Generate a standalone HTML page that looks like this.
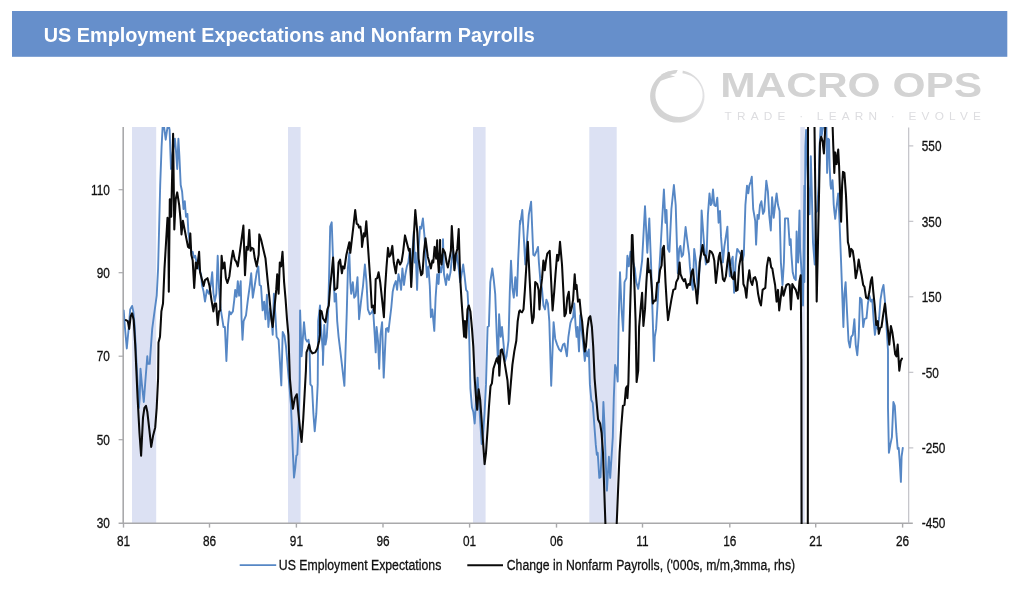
<!DOCTYPE html>
<html lang="en"><head><meta charset="utf-8"><title>US Employment Expectations and Nonfarm Payrolls</title>
<style>
html,body{margin:0;padding:0;background:#fff;}
body{width:1024px;height:595px;overflow:hidden;font-family:"Liberation Sans",sans-serif;}
svg{display:block}
text{font-family:"Liberation Sans",sans-serif;}
text{will-change:transform}
.tk{font-size:14.6px;fill:#111;stroke:#111;stroke-width:0.3px;}
.lg{font-size:14.7px;fill:#111;stroke:#111;stroke-width:0.3px;}
</style></head><body>
<svg width="1024" height="595" viewBox="0 0 1024 595">
<rect width="1024" height="595" fill="#ffffff"/>

<rect x="12" y="11" width="995.3" height="45.8" fill="#668fcb"/>
<text x="43.8" y="41.6" font-size="20.3" font-weight="bold" fill="#ffffff" textLength="491" lengthAdjust="spacingAndGlyphs">US Employment Expectations and Nonfarm Payrolls</text>
<g id="logo">
<defs><linearGradient id="rg" x1="0" y1="0" x2="1" y2="0"><stop offset="0" stop-color="#d2d2d2"/><stop offset="0.6" stop-color="#d6d6d6"/><stop offset="1" stop-color="#e2e2e4"/></linearGradient></defs>
<path fill="url(#rg)" fill-rule="evenodd" d="M677.3,70 a27.2,26.3 0 1,0 0.01,0 Z M679,72.9 a23.6,22 0 1,1 -0.01,0 Z"/>
<path d="M677.9,69 L683,69 L682.4,74 L675.8,74 Z" fill="#ffffff"/>
<path d="M661.5,74.2 L668,71.6 L677.7,70.3 L675.6,73.2 L669.6,75 L675.2,76.4 L668.6,78 L660.2,81 Z" fill="#d4d4d4"/>
<text x="720.2" y="97.4" font-size="35" font-weight="bold" fill="#d3d3d3" textLength="262" lengthAdjust="spacingAndGlyphs">MACRO OPS</text>
<text x="724.6" y="119.8" font-size="11.8" fill="#dddde0" textLength="256.3" lengthAdjust="spacing">TRADE · LEARN · EVOLVE</text>
</g>
<defs><clipPath id="cp"><rect x="123.5" y="127" width="785.5" height="397"/></clipPath></defs>
<rect x="132" y="127" width="24.2" height="396" fill="#dce1f3"/>
<rect x="288" y="127" width="12.6" height="396" fill="#dce1f3"/>
<rect x="473" y="127" width="12.6" height="396" fill="#dce1f3"/>
<rect x="589.3" y="127" width="27.4" height="396" fill="#dce1f3"/>
<rect x="800.3" y="127" width="4.5" height="396" fill="#dce1f3"/>
<g stroke="#a9a9ab" stroke-width="1.6" fill="none">
<path d="M123.2,127 V524.0 M118.60000000000001,523.2 H912.8"/>
<path d="M123.5,523.2 v4.4" stroke-width="1.4"/>
<path d="M209.5,523.2 v4.4" stroke-width="1.4"/>
<path d="M296.4,523.2 v4.4" stroke-width="1.4"/>
<path d="M383,523.2 v4.4" stroke-width="1.4"/>
<path d="M469.6,523.2 v4.4" stroke-width="1.4"/>
<path d="M556.5,523.2 v4.4" stroke-width="1.4"/>
<path d="M642.5,523.2 v4.4" stroke-width="1.4"/>
<path d="M729.8,523.2 v4.4" stroke-width="1.4"/>
<path d="M815.7,523.2 v4.4" stroke-width="1.4"/>
<path d="M902.6,523.2 v4.4" stroke-width="1.4"/>
<path d="M123.2,439.7 h-4.6" stroke-width="1.2"/>
<path d="M123.2,356.2 h-4.6" stroke-width="1.2"/>
<path d="M123.2,272.7 h-4.6" stroke-width="1.2"/>
<path d="M123.2,189.7 h-4.6" stroke-width="1.2"/>
</g>
<g stroke="#bcbcc2" stroke-width="1.1" fill="none">
<path d="M908.7,127.6 V523.2"/>
<path d="M908.7,447.9 h4.6"/>
<path d="M908.7,372.3 h4.6"/>
<path d="M908.7,296.8 h4.6"/>
<path d="M908.7,221.3 h4.6"/>
<path d="M908.7,145.9 h4.6"/>
</g>
<text class="tk" transform="translate(123.5,546.4) scale(0.81,1)" text-anchor="middle">81</text>
<text class="tk" transform="translate(209.5,546.4) scale(0.81,1)" text-anchor="middle">86</text>
<text class="tk" transform="translate(296.4,546.4) scale(0.81,1)" text-anchor="middle">91</text>
<text class="tk" transform="translate(383,546.4) scale(0.81,1)" text-anchor="middle">96</text>
<text class="tk" transform="translate(469.6,546.4) scale(0.81,1)" text-anchor="middle">01</text>
<text class="tk" transform="translate(556.5,546.4) scale(0.81,1)" text-anchor="middle">06</text>
<text class="tk" transform="translate(642.5,546.4) scale(0.81,1)" text-anchor="middle">11</text>
<text class="tk" transform="translate(729.8,546.4) scale(0.81,1)" text-anchor="middle">16</text>
<text class="tk" transform="translate(815.7,546.4) scale(0.81,1)" text-anchor="middle">21</text>
<text class="tk" transform="translate(902.6,546.4) scale(0.81,1)" text-anchor="middle">26</text>
<text class="tk" transform="translate(109.8,528.3) scale(0.81,1)" text-anchor="end">30</text>
<text class="tk" transform="translate(109.8,444.8) scale(0.81,1)" text-anchor="end">50</text>
<text class="tk" transform="translate(109.8,361.3) scale(0.81,1)" text-anchor="end">70</text>
<text class="tk" transform="translate(109.8,277.8) scale(0.81,1)" text-anchor="end">90</text>
<text class="tk" transform="translate(109.8,194.8) scale(0.81,1)" text-anchor="end">110</text>
<text class="tk" transform="translate(921.8,528.3) scale(0.81,1)" text-anchor="start">-450</text>
<text class="tk" transform="translate(921.8,453.2) scale(0.81,1)" text-anchor="start">-250</text>
<text class="tk" transform="translate(921.8,377.6) scale(0.81,1)" text-anchor="start">-50</text>
<text class="tk" transform="translate(921.8,302.1) scale(0.81,1)" text-anchor="start">150</text>
<text class="tk" transform="translate(921.8,226.60000000000002) scale(0.81,1)" text-anchor="start">350</text>
<text class="tk" transform="translate(921.8,151.20000000000002) scale(0.81,1)" text-anchor="start">550</text>
<g clip-path="url(#cp)" fill="none" stroke-linejoin="round" stroke-linecap="round">
<path d="M123.7,310.4 L124.9,327.0 L126.8,348.5 L128.8,327.0 L130.2,309.4 L132.1,305.9 L133.3,311.4 L134.6,325.0 L137.6,384.4 L138.9,407.8 L139.7,398.1 L140.5,368.8 L141.9,384.4 L143.8,402.0 L145.4,380.5 L147.3,356.3 L147.9,363.9 L149.7,363.9 L152.2,328.9 L154.8,309.4 L156.7,295.7 L158.1,268.4 L160.2,185.0 L161.6,146.5 L162.6,127.2 L163.4,121.1 L164.1,127.2 L165.7,139.7 L167.5,127.2 L168.4,123.1 L169.6,129.9 L171.0,169.0 L172.9,151.4 L174.9,138.7 L176.2,153.4 L177.2,169.0 L178.4,138.7 L179.4,156.3 L180.7,185.0 L182.1,191.5 L183.5,209.0 L184.8,201.2 L186.0,216.8 L187.4,213.9 L188.4,232.5 L191.3,252.8 L192.7,251.8 L193.8,257.6 L195.2,255.7 L196.6,262.5 L198.1,266.4 L199.7,270.3 L201.1,274.2 L202.0,285.0 L203.6,291.8 L205.0,301.6 L206.9,289.9 L208.9,293.8 L210.8,285.0 L212.2,272.3 L213.4,292.8 L214.7,301.6 L216.3,293.8 L217.7,255.7 L219.0,287.9 L220.6,308.4 L222.0,317.2 L223.5,327.0 L224.9,327.0 L226.4,361.0 L228.0,325.0 L229.4,311.4 L230.9,314.3 L232.9,311.4 L234.3,299.6 L235.2,289.9 L236.6,296.7 L237.8,281.1 L239.1,295.7 L240.7,281.1 L241.5,317.2 L242.5,339.7 L243.6,321.1 L246.0,315.3 L247.9,299.6 L249.9,285.0 L251.2,273.3 L252.8,297.7 L254.8,285.0 L256.7,272.3 L258.3,266.4 L259.6,285.0 L261.0,286.0 L262.6,310.4 L264.1,301.6 L265.5,319.2 L266.9,294.8 L268.4,327.0 L270.0,308.4 L271.4,317.2 L272.7,334.8 L273.9,293.8 L275.3,313.3 L276.6,336.8 L278.6,339.7 L281.3,385.4 L282.7,331.9 L284.5,335.8 L286.0,346.5 L290.9,403.9 L292.9,452.8 L294.0,477.6 L295.2,468.4 L296.4,455.7 L297.3,454.7 L298.7,423.5 L299.7,378.5 L300.1,310.4 L301.6,356.3 L304.0,322.1 L305.5,338.7 L307.1,341.6 L308.5,339.7 L309.5,346.5 L310.4,384.4 L312.0,386.3 L313.4,413.7 L314.7,431.3 L316.3,413.7 L317.7,384.4 L318.2,321.1 L320.0,305.5 L320.0,305.5 L321.0,327.0 L322.9,352.4 L322.9,364.9 L324.3,325.0 L325.5,344.6 L326.8,336.8 L328.2,311.4 L329.4,262.5 L330.2,226.6 L331.7,222.3 L333.3,266.4 L334.6,301.6 L336.0,293.8 L337.2,321.1 L338.6,336.8 L340.5,352.4 L344.4,385.8 L346.8,311.4 L347.9,268.4 L349.3,252.8 L350.3,282.1 L351.2,293.8 L352.8,282.1 L354.2,297.7 L355.7,295.7 L357.5,277.2 L359.1,319.2 L361.0,301.6 L363.0,286.0 L364.9,264.5 L366.5,282.1 L367.9,309.4 L369.8,314.3 L371.8,312.3 L373.1,309.4 L374.7,334.8 L375.7,352.4 L376.6,327.0 L378.0,340.7 L379.2,368.8 L380.5,334.8 L382.1,322.1 L383.7,377.6 L386.0,328.9 L387.4,328.0 L388.4,331.9 L389.9,319.2 L391.3,307.5 L392.7,291.8 L394.2,285.0 L395.8,281.1 L397.1,289.9 L398.5,274.2 L400.1,282.1 L401.1,289.9 L402.4,268.4 L404.0,285.0 L405.4,274.2 L406.9,266.4 L408.3,262.5 L409.8,250.8 L411.2,282.1 L412.2,254.7 L413.8,231.5 L414.7,262.5 L415.7,252.8 L417.1,289.9 L418.2,254.7 L420.0,226.6 L421.2,228.6 L422.9,218.4 L424.5,236.4 L425.5,254.7 L427.0,277.2 L428.4,266.4 L429.8,286.0 L430.9,317.2 L432.3,309.4 L434.3,330.9 L435.6,297.7 L437.2,274.2 L438.6,284.0 L439.7,266.4 L441.1,272.3 L442.7,262.5 L443.0,239.3 L444.0,274.2 L446.0,285.0 L447.3,274.2 L448.9,280.1 L450.5,272.3 L451.8,258.6 L453.2,250.8 L454.8,268.4 L456.7,252.8 L458.7,268.4 L460.2,282.1 L461.6,274.2 L463.2,264.5 L464.5,275.2 L466.1,289.9 L467.5,291.8 L468.4,307.5 L469.4,344.6 L470.4,388.3 L472.0,407.8 L473.3,411.7 L474.7,423.5 L476.2,398.1 L477.6,377.6 L479.2,403.9 L480.5,425.4 L481.7,444.0 L483.1,433.2 L484.5,413.7 L486.0,384.4 L487.6,327.0 L488.9,326.0 L490.3,282.1 L492.3,268.4 L493.8,280.1 L495.2,293.8 L496.8,336.8 L498.1,363.9 L499.1,314.3 L500.7,336.8 L502.0,327.0 L503.6,344.6 L505.0,361.3 L506.5,356.3 L508.5,340.7 L509.8,291.8 L511.0,260.6 L512.4,287.9 L513.8,297.7 L515.3,277.2 L516.9,295.7 L518.2,258.6 L520.0,220.8 L520.0,224.7 L521.0,218.8 L522.3,210.0 L525.3,264.5 L528.8,214.9 L531.1,201.6 L533.3,254.7 L534.6,255.7 L536.6,250.8 L538.0,246.9 L538.9,262.5 L540.5,282.1 L541.9,287.9 L543.4,305.5 L545.0,309.4 L546.4,299.6 L547.9,303.5 L549.3,321.1 L551.2,385.8 L553.6,322.1 L555.2,338.7 L557.1,344.6 L559.1,349.4 L561.0,351.4 L563.0,344.6 L564.5,343.6 L566.9,356.3 L568.4,336.8 L570.4,323.1 L571.8,319.2 L573.1,317.2 L574.3,303.5 L575.7,327.0 L576.6,336.8 L577.6,327.0 L579.0,351.4 L580.2,315.3 L581.5,328.9 L582.9,340.7 L584.8,361.0 L586.0,350.4 L587.4,356.3 L588.8,349.4 L589.9,384.4 L591.3,400.0 L592.7,402.9 L594.2,423.5 L595.8,444.9 L596.8,454.7 L597.7,452.8 L599.3,477.9 L600.5,477.2 L602.4,437.1 L603.4,402.0 L604.4,423.5 L605.4,452.8 L606.9,490.6 L608.9,456.7 L610.2,477.9 L612.8,437.1 L613.8,398.1 L615.1,364.9 L616.3,368.8 L617.7,381.5 L618.6,321.1 L620.0,272.3 L621.6,309.4 L623.1,330.9 L624.5,282.1 L626.4,278.2 L627.4,255.7 L628.8,266.4 L630.4,251.8 L634.8,268.4 L636.2,282.1 L638.2,288.9 L640.1,276.2 L642.1,260.6 L645.0,206.1 L647.3,252.8 L649.3,218.4 L651.2,268.4 L652.0,295.7 L652.8,321.1 L654.0,361.0 L654.8,336.8 L656.1,328.9 L657.7,301.6 L659.1,272.3 L660.2,254.7 L662.2,218.8 L663.9,189.5 L665.5,222.7 L666.5,210.0 L667.9,248.9 L669.4,251.8 L671.4,209.0 L673.9,185.0 L675.7,205.1 L677.8,273.3 L679.2,248.9 L680.4,245.9 L681.7,256.7 L683.1,254.7 L685.6,227.0 L687.0,238.3 L689.1,254.7 L689.9,266.4 L691.5,282.1 L692.9,289.9 L694.2,248.9 L695.8,260.6 L696.8,276.2 L698.1,293.8 L699.3,272.3 L700.7,254.7 L701.6,210.4 L705.0,256.7 L705.9,264.5 L706.7,252.8 L707.9,214.9 L709.5,193.4 L710.8,205.1 L711.8,203.2 L713.0,189.5 L714.3,205.1 L715.9,206.1 L717.3,197.7 L718.6,222.7 L720.0,211.0 L720.0,211.0 L721.0,236.4 L722.9,262.5 L724.3,246.9 L727.4,226.6 L728.2,252.8 L729.8,276.2 L731.3,260.6 L732.7,256.7 L734.1,292.8 L735.6,262.5 L737.2,248.9 L741.1,254.7 L742.5,260.6 L743.8,254.7 L745.4,205.1 L747.0,185.6 L748.3,193.4 L749.3,185.6 L750.7,181.7 L751.8,176.8 L753.2,209.0 L755.2,220.8 L756.1,244.6 L757.5,214.9 L758.7,218.8 L760.0,205.1 L761.4,201.2 L763.0,213.9 L764.3,211.0 L766.3,180.7 L767.9,191.5 L769.2,214.9 L770.8,230.5 L772.1,197.3 L773.7,217.8 L775.1,205.1 L776.6,193.4 L778.0,205.1 L779.6,211.0 L780.9,262.5 L782.5,285.0 L783.9,262.5 L785.0,218.4 L788.0,218.4 L789.7,245.0 L790.7,239.3 L791.3,252.8 L792.7,272.3 L794.2,278.2 L795.8,280.1 L796.6,231.5 L797.1,252.8 L798.1,262.5 L799.5,210.4 L800.1,248.9 L801.6,272.3 L803.0,305.5 L804.4,185.6 L804.4,282.1 L805.4,146.5 L806.1,129.9 L807.3,166.1 L808.9,205.1 L809.6,214.3 L810.2,185.6 L810.8,156.3 L811.8,191.5 L813.0,242.8 L814.7,264.5 L815.7,212.9 L817.1,211.0 L818.6,185.6 L819.6,146.5 L820.6,127.2 L821.0,123.1 L821.6,135.8 L823.1,127.2 L823.7,123.1 L824.5,127.2 L825.5,129.0 L826.4,127.2 L826.6,139.7 L827.1,172.9 L828.1,138.7 L829.1,139.7 L829.6,166.1 L830.5,185.0 L831.1,188.9 L831.9,185.6 L832.5,180.1 L833.1,189.5 L833.7,204.5 L834.3,211.0 L835.2,218.8 L836.8,205.1 L838.2,193.4 L839.5,220.8 L841.1,262.5 L842.5,301.6 L843.4,327.0 L844.4,293.8 L845.6,282.1 L847.0,311.4 L848.5,340.7 L849.9,347.5 L851.2,336.8 L852.8,334.8 L854.4,319.2 L855.7,344.6 L857.3,355.3 L858.7,336.8 L860.0,297.7 L861.6,299.6 L863.2,327.0 L864.5,319.2 L866.5,318.2 L867.9,303.5 L869.4,295.7 L871.0,301.6 L872.3,299.6 L873.7,321.1 L874.9,334.8 L876.2,325.0 L877.8,328.9 L879.2,317.2 L880.5,299.6 L882.1,289.9 L883.5,285.0 L885.0,301.6 L886.4,325.0 L888.0,350.4 L888.0,407.8 L888.9,452.8 L890.3,444.9 L891.9,437.1 L893.4,402.0 L894.8,405.9 L896.4,433.2 L897.7,448.8 L898.7,447.9 L899.7,460.6 L900.9,481.9 L901.6,456.7 L902.8,447.9" stroke="#5687c5" stroke-width="1.9"/>
<path d="M125.9,320.1 L127.8,321.1 L129.2,328.9 L130.7,316.2 L132.1,313.3 L133.7,320.1 L135.2,344.6 L137.6,398.1 L139.5,433.2 L141.1,455.7 L143.0,417.6 L144.4,407.8 L146.0,405.9 L147.3,411.7 L149.3,429.3 L151.2,446.9 L153.2,435.2 L155.2,427.4 L156.7,407.8 L158.1,378.5 L158.5,342.6 L160.0,336.8 L161.4,311.4 L163.0,303.5 L164.5,268.4 L167.5,217.8 L168.4,232.5 L168.8,291.8 L169.8,199.3 L171.2,216.8 L173.1,133.8 L174.3,229.5 L175.7,199.3 L177.2,192.4 L179.2,205.1 L180.5,218.8 L181.5,234.4 L182.9,220.8 L184.8,230.5 L188.0,246.9 L189.3,247.9 L190.3,233.4 L191.3,254.7 L192.7,260.6 L194.2,287.9 L195.8,262.5 L197.1,268.4 L199.1,251.8 L200.1,272.3 L201.6,278.2 L203.6,286.0 L205.0,280.1 L207.5,278.2 L209.5,286.0 L211.4,299.6 L213.4,311.4 L214.7,303.5 L216.1,303.5 L217.7,325.0 L219.0,311.4 L220.2,310.4 L221.6,255.7 L222.9,268.4 L224.5,262.5 L225.9,278.2 L227.4,283.0 L229.4,276.2 L231.3,260.6 L232.9,250.8 L234.8,259.6 L236.2,261.6 L237.8,266.4 L239.5,254.7 L243.4,225.6 L245.0,275.2 L246.6,246.9 L247.9,249.8 L249.3,229.9 L250.5,250.8 L251.8,247.9 L253.4,248.9 L254.8,258.6 L256.7,266.4 L258.7,254.7 L259.3,234.4 L261.0,239.3 L265.5,258.6 L267.5,279.1 L269.4,297.7 L271.4,319.2 L272.7,327.0 L274.3,309.4 L276.2,289.9 L277.2,274.2 L278.6,293.8 L279.8,262.5 L281.1,266.4 L282.5,251.8 L284.1,282.1 L285.6,299.6 L287.0,319.2 L288.4,334.8 L289.9,378.5 L291.5,396.1 L292.9,408.8 L294.8,398.1 L296.8,394.2 L298.1,409.8 L300.1,429.3 L301.6,442.0 L303.2,419.5 L304.6,394.2 L305.9,370.7 L306.5,352.4 L307.9,348.5 L309.1,344.6 L310.4,350.4 L312.4,353.4 L315.3,352.4 L317.3,348.5 L319.2,340.7 L320.0,334.8 L320.0,310.4 L321.6,311.4 L322.9,318.2 L325.5,322.1 L327.4,309.4 L328.8,305.5 L330.2,286.0 L331.7,272.3 L333.1,257.6 L334.6,289.9 L337.2,287.9 L338.6,262.5 L340.1,259.6 L341.9,273.3 L343.0,266.4 L344.4,268.4 L346.4,254.7 L349.3,242.2 L350.3,252.8 L353.6,224.7 L355.2,210.0 L356.7,223.7 L358.1,224.7 L359.1,227.6 L360.4,226.6 L361.6,236.4 L362.0,246.9 L363.9,233.4 L364.9,236.4 L366.3,221.3 L368.8,258.6 L370.4,282.1 L371.8,307.5 L373.1,305.5 L374.7,313.3 L375.7,279.1 L377.2,278.2 L378.6,272.3 L380.2,282.1 L382.1,299.6 L383.9,317.2 L385.0,289.9 L386.4,268.4 L388.0,247.9 L389.3,256.7 L390.7,254.7 L392.3,245.9 L393.8,262.5 L395.8,273.3 L397.1,262.5 L398.1,259.6 L400.1,264.5 L401.6,261.6 L403.0,252.8 L405.0,235.4 L408.9,250.8 L409.8,248.9 L411.2,286.9 L412.8,254.7 L415.3,210.0 L417.3,232.5 L418.6,258.6 L420.0,268.4 L421.2,275.2 L422.5,273.3 L423.9,252.8 L425.5,238.3 L427.8,256.7 L429.4,262.5 L430.9,268.4 L432.3,260.6 L433.3,262.5 L434.6,246.9 L436.2,258.6 L437.2,240.3 L437.2,248.9 L438.8,272.3 L440.1,239.9 L440.1,252.8 L441.5,264.5 L443.0,248.9 L445.0,252.8 L446.6,262.5 L447.9,267.4 L449.5,258.6 L450.9,250.8 L451.8,226.0 L454.4,270.3 L455.7,254.7 L457.3,248.9 L458.7,229.1 L460.2,278.2 L461.6,301.6 L463.0,321.1 L464.1,336.8 L464.9,321.1 L466.1,337.7 L467.5,309.4 L468.8,305.5 L470.4,311.4 L472.0,328.9 L473.3,346.5 L474.7,378.5 L476.2,400.0 L477.2,409.8 L478.6,389.3 L480.2,400.0 L481.7,421.5 L483.1,443.0 L484.6,464.1 L486.0,452.8 L487.6,429.3 L488.9,407.8 L490.5,386.3 L491.9,383.4 L493.4,368.8 L496.8,358.2 L498.1,362.9 L498.7,356.3 L499.3,375.6 L500.7,350.4 L502.0,349.4 L503.6,356.3 L505.9,370.7 L507.5,380.5 L509.1,403.9 L510.4,388.3 L512.4,364.9 L514.3,351.4 L516.3,340.7 L517.7,321.1 L519.2,311.4 L520.0,310.4 L520.0,311.4 L522.0,312.3 L523.5,309.4 L524.9,289.9 L526.8,258.6 L527.8,241.8 L529.8,282.1 L531.3,311.4 L532.3,323.1 L533.7,317.2 L535.2,282.1 L537.2,284.0 L538.6,289.9 L539.5,309.4 L540.9,287.9 L542.1,278.2 L543.4,260.6 L544.8,270.3 L546.0,260.6 L547.3,253.7 L549.7,250.8 L551.2,282.1 L552.6,310.4 L554.2,291.8 L555.5,274.2 L557.1,254.7 L558.1,260.6 L559.1,253.7 L560.0,241.8 L562.0,264.5 L563.4,291.8 L564.5,316.2 L565.9,313.3 L567.3,297.7 L568.8,291.8 L570.2,313.3 L571.8,307.5 L573.1,299.6 L574.7,274.2 L575.7,288.9 L576.6,285.0 L578.0,301.6 L579.6,299.6 L580.9,313.3 L582.1,321.1 L583.5,336.8 L584.8,351.4 L586.0,346.5 L587.4,328.9 L588.8,318.2 L590.3,316.2 L591.9,327.0 L593.2,346.5 L594.6,378.5 L596.2,398.1 L598.1,419.5 L600.1,423.5 L601.6,433.2 L603.0,452.8 L605.4,523.8 L611.0,641.0 L616.7,523.8 L619.6,452.8 L621.2,427.4 L622.9,405.9 L624.5,404.9 L625.9,388.3 L627.0,386.3 L627.4,398.1 L628.4,382.4 L629.8,321.1 L630.9,282.1 L631.9,235.0 L632.5,235.0 L634.3,282.1 L635.6,321.1 L636.6,382.0 L638.2,370.7 L639.1,327.0 L640.7,307.5 L642.1,292.8 L643.4,326.0 L645.0,309.4 L646.4,282.1 L647.9,258.6 L648.9,272.3 L650.5,270.3 L651.8,287.9 L652.8,303.5 L654.4,300.6 L655.7,300.6 L657.1,283.0 L658.7,282.1 L660.0,270.3 L661.6,265.5 L662.6,248.9 L663.9,245.9 L665.5,282.1 L666.9,305.5 L668.0,320.1 L669.4,311.4 L671.4,299.6 L673.3,289.9 L675.3,288.9 L676.2,282.1 L678.2,278.2 L679.6,262.5 L680.5,274.2 L682.1,278.2 L683.7,281.1 L685.0,279.1 L687.0,287.9 L688.4,284.0 L689.9,285.0 L691.5,272.3 L692.9,269.4 L694.2,282.1 L695.8,289.9 L697.1,303.5 L698.3,286.0 L699.7,262.5 L701.2,252.8 L702.6,245.0 L704.0,254.7 L705.5,255.7 L707.1,262.5 L708.5,261.6 L709.8,250.8 L711.4,251.8 L713.0,254.7 L714.3,260.6 L715.9,283.0 L717.3,270.3 L718.8,256.7 L720.0,252.8 L720.0,254.7 L721.6,266.4 L722.9,279.1 L724.3,281.1 L725.9,276.2 L727.4,262.5 L728.8,252.8 L730.2,266.4 L731.7,277.2 L733.3,279.1 L734.6,272.3 L736.0,290.9 L737.6,289.9 L739.1,266.4 L740.5,258.6 L741.9,250.8 L743.4,284.0 L745.0,287.9 L746.4,297.7 L747.7,282.1 L749.3,270.3 L750.7,281.1 L752.2,285.0 L753.6,278.2 L755.2,277.2 L756.7,282.1 L758.1,293.8 L759.6,301.6 L761.0,305.5 L762.6,289.9 L763.9,288.9 L765.3,287.9 L766.9,266.4 L768.4,257.6 L769.8,258.6 L771.2,267.4 L772.3,268.4 L773.7,277.2 L775.1,285.0 L776.6,301.6 L778.0,289.9 L779.2,310.4 L780.5,299.6 L782.1,286.9 L783.5,295.7 L785.0,289.9 L786.4,285.0 L788.4,284.0 L789.7,285.0 L790.9,309.4 L792.3,284.0 L793.8,286.9 L795.8,289.9 L797.1,294.8 L798.1,298.7 L799.5,281.1 L800.7,275.2 L801.4,359.0 L801.8,711.8 L807.7,711.8 L807.9,359.0 L808.1,-50.0 L811.8,-50.0 L814.5,127.0 L816.7,301.6 L819.2,185.6 L820.0,142.6 L821.2,136.8 L822.5,140.7 L823.9,153.4 L825.1,130.9 L827.4,87.9 L831.3,87.9 L833.3,146.5 L834.3,172.9 L835.2,152.4 L836.6,164.1 L838.2,149.5 L839.1,166.1 L840.1,195.4 L841.1,221.7 L842.1,185.6 L843.0,171.9 L844.4,172.9 L846.0,195.4 L847.0,218.8 L847.9,242.2 L848.9,245.9 L849.9,256.7 L851.2,248.9 L852.8,250.8 L854.4,262.5 L855.7,278.2 L857.3,270.3 L858.7,259.6 L860.2,268.4 L861.6,275.2 L863.2,285.0 L864.5,286.9 L866.1,297.7 L867.9,298.7 L869.4,291.8 L870.8,281.1 L872.0,277.2 L873.3,291.8 L874.7,305.5 L876.2,325.0 L877.8,321.1 L878.8,333.8 L880.2,328.0 L881.5,327.0 L883.1,315.3 L885.0,303.5 L886.4,317.2 L888.0,330.9 L889.3,344.6 L890.9,326.0 L892.3,331.9 L893.8,342.6 L895.2,354.3 L896.4,356.3 L897.7,344.6 L899.3,370.7 L900.7,361.0 L902.0,358.6" stroke="#0a0a0a" stroke-width="2.05"/>
</g>
<path d="M239.7,565.2 H276.2" stroke="#5687c5" stroke-width="1.8"/>
<text class="lg" x="278.8" y="570.4" textLength="162.5" lengthAdjust="spacingAndGlyphs">US Employment Expectations</text>
<path d="M467.3,565.2 H503" stroke="#0a0a0a" stroke-width="1.9"/>
<text class="lg" x="506.8" y="570.4" textLength="288.3" lengthAdjust="spacingAndGlyphs">Change in Nonfarm Payrolls, ('000s, m/m,3mma, rhs)</text>
</svg></body></html>
